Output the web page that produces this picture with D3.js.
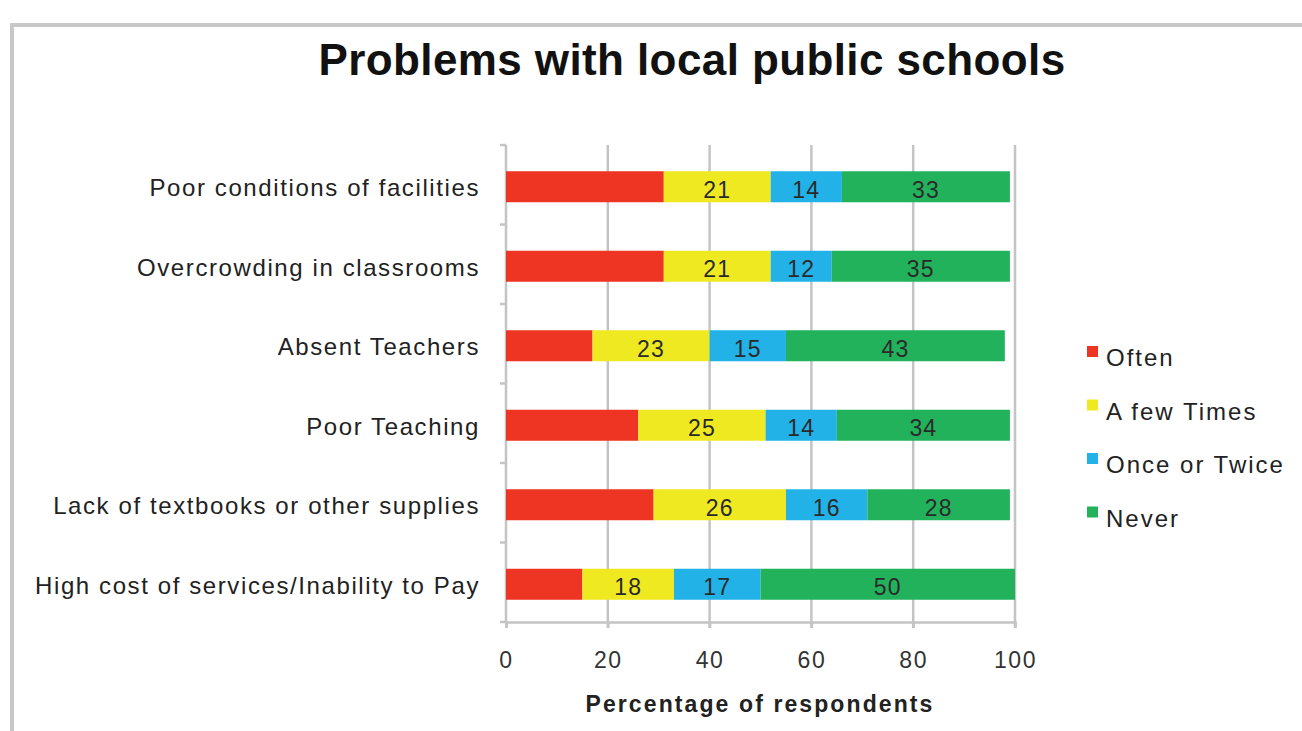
<!DOCTYPE html>
<html><head><meta charset="utf-8">
<script src="https://cdn.jsdelivr.net/npm/d3@7"></script>
<style>body{margin:0;background:#fff;overflow:hidden}text{font-family:"Liberation Sans",Arial,sans-serif}</style>
</head><body><svg id="c" width="1302" height="731"></svg>
<script>
const categories = ["Poor conditions of facilities","Overcrowding in classrooms","Absent Teachers","Poor Teaching","Lack of textbooks or other supplies","High cost of services/Inability to Pay"];
const seriesNames = ["Often","A few Times","Once or Twice","Never"];
const often = [31,31,17,26,29,15];
const fewTimes = [21,21,23,25,26,18];
const onceTwice = [14,12,15,14,16,17];
const never = [33,35,43,34,28,50];
const showLabel = [false,true,true,true];
const colors = ["#ee3524","#efe921","#22b2e7","#23b25c"];
const xTicks = [0,20,40,60,80,100];

const svg = d3.select("#c");
svg.append("rect").attr("x",12).attr("y",25).attr("width",1310).attr("height",730)
  .attr("fill","#fff").attr("stroke","#c8c8c8").attr("stroke-width",4);

svg.append("text").attr("x",692).attr("y",75).attr("text-anchor","middle")
  .attr("font-size",44).attr("font-weight","bold").attr("fill","#111")
  .attr("letter-spacing",0.4)
  .text("Problems with local public schools");

const x = d3.scaleLinear().domain([0,100]).range([506,1015]);
const y = d3.scaleBand().domain(categories).range([145,622]).paddingInner(0.6).paddingOuter(0.3);

const g = svg.append("g");
g.selectAll(".grid").data(xTicks.slice(1)).join("line")
  .attr("x1",d=>x(d)).attr("x2",d=>x(d)).attr("y1",145).attr("y2",628)
  .attr("stroke","#c4c4c4").attr("stroke-width",2.5);

const xa = g.append("g").attr("transform","translate(0,622)")
  .call(d3.axisBottom(x).tickValues(xTicks).tickSize(6).tickPadding(24));
xa.select(".domain").attr("stroke","#c4c4c4").attr("stroke-width",2.5);
xa.selectAll(".tick line").attr("stroke","#c4c4c4").attr("stroke-width",2.5);
xa.selectAll(".tick text").attr("font-size",23).attr("letter-spacing",1.6).attr("fill","#333").attr("font-family","Liberation Sans, Arial, sans-serif");

const ya = g.append("g").attr("transform","translate(506,0)")
  .call(d3.axisLeft(y).tickSize(0).tickPadding(26));
ya.select(".domain").attr("stroke","#c4c4c4").attr("stroke-width",2.5).attr("d","M0,145V622");
ya.selectAll(".tick text").attr("font-size",24).attr("letter-spacing",1.6).attr("dy","11.5").attr("fill","#222").attr("font-family","Liberation Sans, Arial, sans-serif");
const bounds = d3.range(categories.length+1).map(i=>145+(622-145)*i/categories.length);
g.selectAll(".bt").data(bounds).join("line")
  .attr("x1",500).attr("x2",506).attr("y1",d=>d).attr("y2",d=>d)
  .attr("stroke","#c4c4c4").attr("stroke-width",2.5);

const rows = categories.map((c,i)=>({cat:c,"Often":often[i],"A few Times":fewTimes[i],"Once or Twice":onceTwice[i],"Never":never[i]}));
const stack = d3.stack().keys(seriesNames)(rows);
const bh = 31;
stack.forEach((s,si)=>{
  const sg = g.append("g");
  sg.selectAll("rect").data(s).join("rect")
    .attr("x",d=>x(d[0])).attr("width",d=>x(d[1])-x(d[0]))
    .attr("y",d=>y(d.data.cat)+y.bandwidth()/2-bh/2+2).attr("height",bh)
    .attr("fill",colors[si]);
  if(showLabel[si]){
    sg.selectAll("text").data(s).join("text")
      .attr("x",d=>(x(d[0])+x(d[1]))/2).attr("y",d=>y(d.data.cat)+y.bandwidth()/2+13)
      .attr("text-anchor","middle").attr("font-size",23).attr("letter-spacing",1.2).attr("fill","#2a2a2a")
      .text(d=>d[1]-d[0]);
  }
});

svg.append("text").attr("x",760).attr("y",712).attr("text-anchor","middle")
  .attr("font-size",23).attr("font-weight","bold").attr("letter-spacing",2.1).attr("fill","#222")
  .text("Percentage of respondents");

const lg = svg.append("g");
seriesNames.forEach((n,i)=>{
  const ly = 357 + i*53.5;
  lg.append("rect").attr("x",1087).attr("y",ly-11).attr("width",11).attr("height",11).attr("fill",colors[i]);
  lg.append("text").attr("x",1106).attr("y",ly+9).attr("font-size",24).attr("letter-spacing",2).attr("fill","#222").text(n);
});
</script></body></html>
